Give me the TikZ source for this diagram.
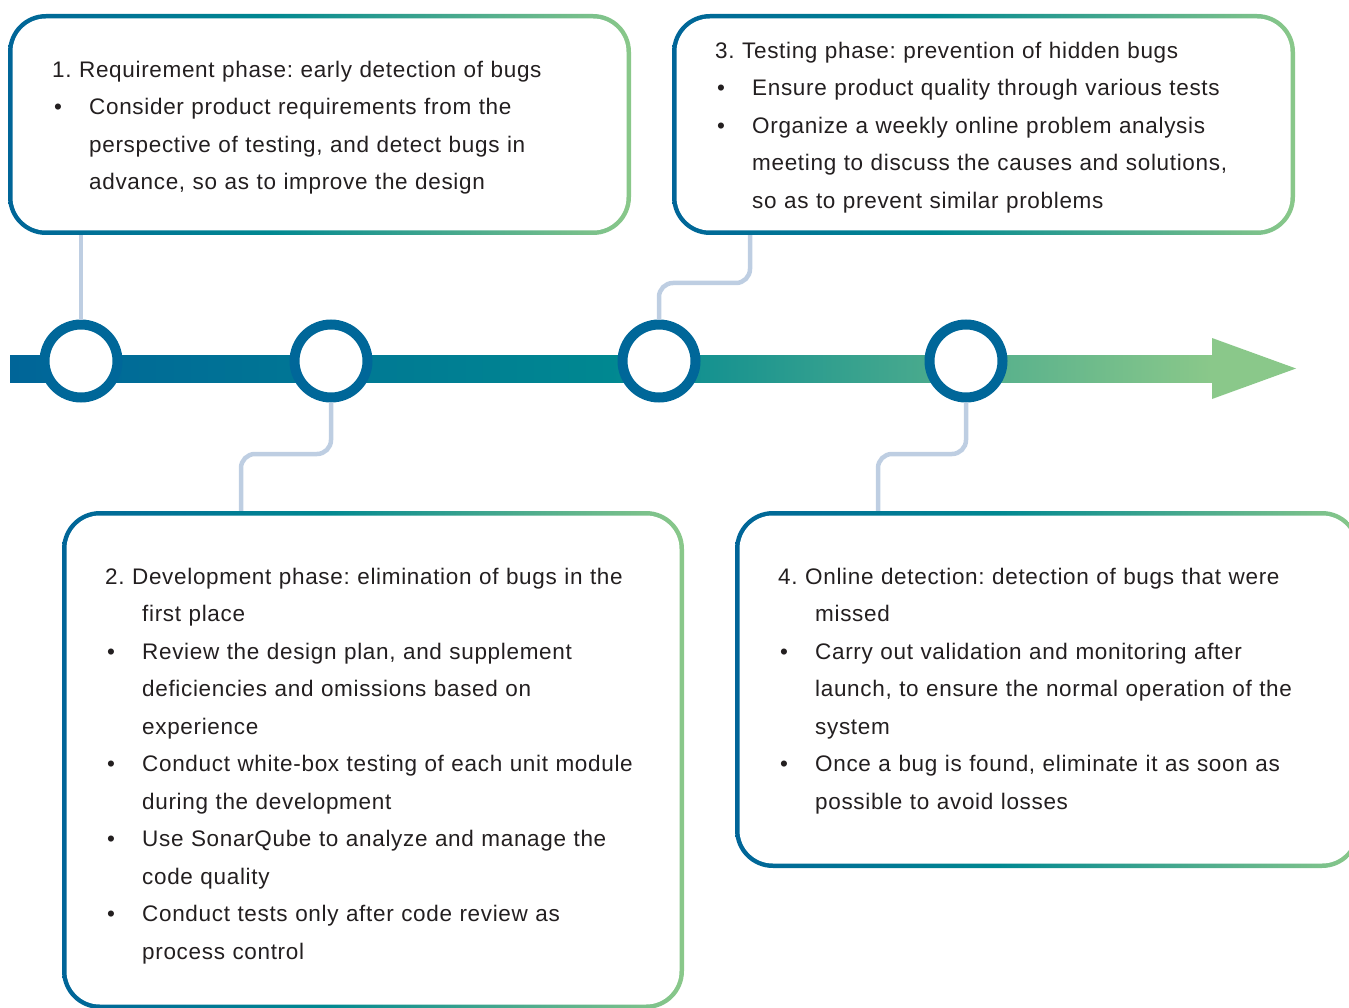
\documentclass[tikz,border=0pt]{standalone}
\usepackage{fontspec}
\setmainfont{Liberation Sans}[LetterSpace=3]
\usetikzlibrary{positioning,calc}
\setlength{\parindent}{0pt}
\frenchspacing

\definecolor{dblue}{RGB}{0,101,152}
\definecolor{teal}{RGB}{0,136,145}
\definecolor{lgreen}{RGB}{138,200,138}
\definecolor{ring}{RGB}{0,103,153}
\definecolor{link}{RGB}{190,206,226}
\definecolor{ink}{RGB}{35,31,32}

\pgfdeclarehorizontalshading{boxgrad}{100bp}{color(0bp)=(dblue); color(25bp)=(dblue);
  color(46bp)=(teal); color(75bp)=(lgreen); color(100bp)=(lgreen)}
\pgfdeclarehorizontalshading{bargrad}{100bp}{color(0bp)=(dblue); color(25bp)=(dblue);
  color(50bp)=(teal); color(75bp)=(lgreen); color(100bp)=(lgreen)}

\newcommand{\hd}{\rule{0pt}{20pt}}
\newcommand{\bul}{\hspace*{2pt}\makebox[35pt][l]{\textbullet}}
\newcommand{\ind}{\hspace*{37pt}}

\tikzset{
  frame/.style={rectangle, rounded corners=38pt, shading=boxgrad, inner sep=0pt,
    path picture={\fill[white, rounded corners=33.5pt]
      ([shift={(4.5pt,4.5pt)}]path picture bounding box.south west) rectangle
      ([shift={(-4.5pt,-4.5pt)}]path picture bounding box.north east);}},
  txt/.style={anchor=north west, inner sep=0pt, text width=600pt, align=left,
    font=\fontsize{22.5}{37.5}\selectfont, text=ink},
  dot/.style={circle, draw=ring, line width=10pt, fill=white, inner sep=0pt,
    minimum size=73pt},
  wire/.style={draw=link, line width=4.5pt, rounded corners=14pt}
}

\begin{document}
\begin{tikzpicture}[x=1pt,y=-1pt]
\useasboundingbox (0,0) rectangle (1349,1008);

% time line
\shade[shading=bargrad] (10,355) rectangle (1212,382);
\fill[lgreen] (1212,338) -- (1296,368.5) -- (1212,399) -- cycle;

% phase boxes
\node[frame, minimum width=623pt, minimum height=221pt] (b1) at (319.5,124.5) {};
\node[frame, minimum width=623pt, minimum height=221pt] (b3) at (983.5,124.5) {};
\node[frame, minimum width=622pt, minimum height=498pt] (b2) at (373,760) {};
\node[frame, minimum width=625pt, minimum height=357pt] (b4) at (1047.5,689.5) {};

\node[txt] (t1) at (52,57) {\hd 1. Requirement phase: early detection of bugs\\
  \bul Consider product requirements from the\\
  \ind perspective of testing, and detect bugs in\\
  \ind advance, so as to improve the design};
\node[txt] (t3) at (715,38) {\hd 3. Testing phase: prevention of hidden bugs\\
  \bul Ensure product quality through various tests\\
  \bul Organize a weekly online problem analysis\\
  \ind meeting to discuss the causes and solutions,\\
  \ind so as to prevent similar problems};
\node[txt] (t2) at (105,564) {\hd 2. Development phase: elimination of bugs in the\\
  \ind first place\\
  \bul Review the design plan, and supplement\\
  \ind deficiencies and omissions based on\\
  \ind experience\\
  \bul Conduct white-box testing of each unit module\\
  \ind during the development\\
  \bul Use SonarQube to analyze and manage the\\
  \ind code quality\\
  \bul Conduct tests only after code review as\\
  \ind process control};
\node[txt] (t4) at (778,564) {\hd 4. Online detection: detection of bugs that were\\
  \ind missed\\
  \bul Carry out validation and monitoring after\\
  \ind launch, to ensure the normal operation of the\\
  \ind system\\
  \bul Once a bug is found, eliminate it as soon as\\
  \ind possible to avoid losses};

% milestones
\node[dot] (c1) at (81,361) {};
\node[dot] (c2) at (331,361) {};
\node[dot] (c3) at (659,361) {};
\node[dot] (c4) at (966,361) {};

\coordinate (k2) at (241,454);
\coordinate (k3) at (750,283);
\coordinate (k4) at (878,454);

\draw[wire] (c1.north) -- (c1 |- b1.south);
\draw[wire] (c2.south) |- (k2) -- (k2 |- b2.north);
\draw[wire] (c3.north) |- (k3) -- (k3 |- b3.south);
\draw[wire] (c4.south) |- (k4) -- (k4 |- b4.north);
\end{tikzpicture}
\end{document}
